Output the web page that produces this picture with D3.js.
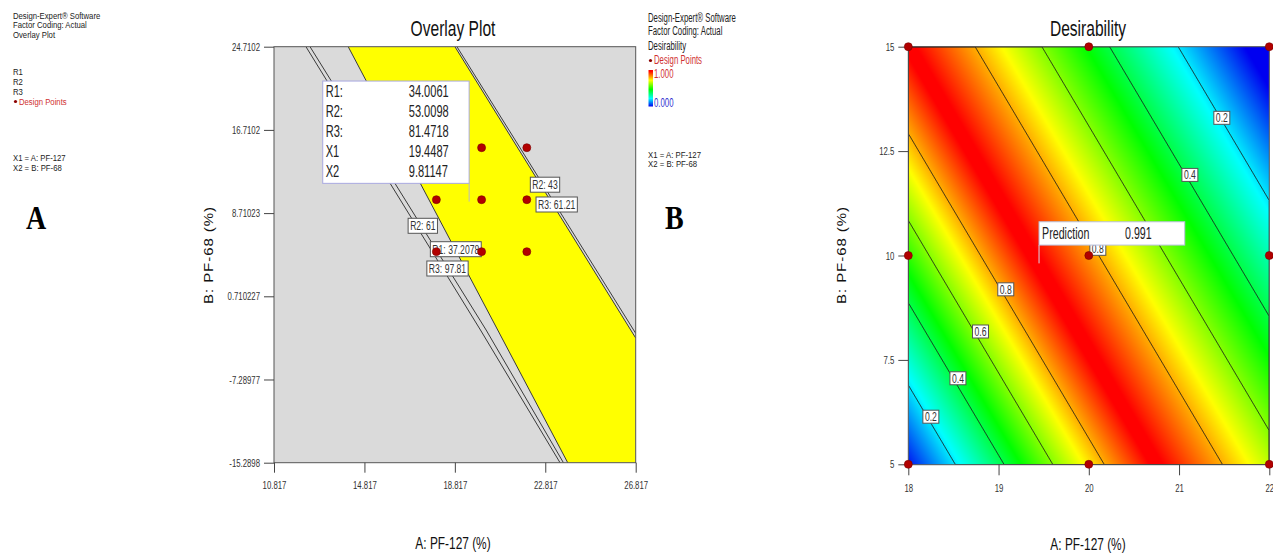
<!DOCTYPE html>
<html>
<head>
<meta charset="utf-8">
<script src="https://cdn.jsdelivr.net/npm/d3@7"></script>
<style>
  html, body { margin: 0; padding: 0; background: #ffffff; }
  svg { display: block; }
</style>
</head>
<body>
<svg id="fig" width="1273" height="557"></svg>
<script>
// ------------------------------------------------------------------
// Panel A: overlay plot of the three responses
// ------------------------------------------------------------------
const overlayXTicks = [10.817, 14.817, 18.817, 22.817, 26.817];
const overlayXTickLabels = ["10.817", "14.817", "18.817", "22.817", "26.817"];
const overlayYTicks = [24.7102, 16.7102, 8.71023, 0.710227, -7.28977, -15.2898];
const overlayYTickLabels = ["24.7102", "16.7102", "8.71023", "0.710227", "-7.28977", "-15.2898"];

// 3x3 factorial design (A: PF-127 %, B: PF-68 %)
const designA = [18, 20, 22, 18, 20, 22, 18, 20, 22];
const designB = [15, 15, 15, 10, 10, 10, 5, 5, 5];

// response contours that bound the feasible window, as [A, B] vertices
const contourR2_61 = [[12.23, 24.71], [19.95, -2.53], [23.47, -15.29]];
const contourR3_97 = [[12.41, 24.71], [20.20, -2.53], [23.62, -15.29]];
const contourR1_37 = [[14.10, 24.71], [23.81, -15.29]];
const contourR2_43 = [[18.82, 24.71], [26.817, -3.30]];
const contourR3_61 = [[18.91, 24.71], [26.817, -2.85]];
// feasible (yellow) window
const sweetSpot = [[14.10, 24.71], [18.82, 24.71], [26.817, -3.30], [26.817, -15.29], [23.81, -15.29]];

// flags placed on the contours
const flagText = ["R2: 43", "R3: 61.21", "R2: 61", "R1: 37.2078", "R3: 97.81"];
const flagA = [22.805, 23.322, 17.399, 18.859, 18.492];
const flagB = [11.441, 9.537, 7.489, 5.239, 3.383];

// optimum formulation
const optNames = ["R1:", "R2:", "R3:", "X1", "X2"];
const optValues = ["34.0061", "53.0098", "81.4718", "19.4487", "9.81147"];
const optA = 19.4487;
const optB = 9.81147;

// ------------------------------------------------------------------
// Panel B: desirability
// ------------------------------------------------------------------
const desXTicks = [18, 19, 20, 21, 22];
const desXTickLabels = ["18", "19", "20", "21", "22"];
const desYTicks = [5, 7.5, 10, 12.5, 15];
const desYTickLabels = ["5", "7.5", "10", "12.5", "15"];

// desirability along the bottom edge (B = 5): A position -> desirability
const fieldA5 = [17.95, 18.52, 19.06, 19.60, 20.17, 20.74, 21.48, 22.22, 22.97, 23.73, 24.47];
const fieldD  = [0.0,   0.2,   0.4,   0.6,   0.8,   0.991, 0.8,   0.6,   0.4,   0.2,   0.0];
// iso-desirability lines fall by this many B units per unit of A
const contourTilt = 3.65;
const contourLevels = [0.2, 0.4, 0.6, 0.8];

const desLabelText = ["0.2", "0.4", "0.8", "0.8", "0.6", "0.4", "0.2"];
const desLabelA = [21.474, 21.12, 20.10, 19.08, 18.80, 18.55, 18.25];
const desLabelB = [13.297, 11.93, 10.16, 9.19, 8.18, 7.06, 6.14];
const predictionValue = "0.991";

// ------------------------------------------------------------------
const svg = d3.select("#fig");
const FONT = "'Liberation Sans', Arial, sans-serif";
const NX = 0.82;  // horizontal squeeze giving a condensed face
const VS = 1.2;   // vertical text stretch

function put(g, x, y, str, o = {}) {
  const vs = o.vs || VS;
  const sx = o.sx || NX;
  return g.append("text")
    .attr("transform", `translate(${x},${y}) scale(${sx},${vs})${o.rotate ? " rotate(-90)" : ""}`)
    .attr("font-family", o.family || FONT)
    .attr("font-size", o.size || 10)
    .attr("font-weight", o.weight || null)
    .attr("letter-spacing", o.spacing || null)
    .attr("fill", o.fill || "#222")
    .attr("text-anchor", o.anchor || "start")
    .text(str);
}

function styleAxis(g) {
  g.selectAll("path.domain").remove();
  g.selectAll("line").attr("stroke", "#444").attr("stroke-width", 1);
  g.selectAll("text").attr("font-family", FONT).attr("font-size", 9.5).attr("fill", "#333")
    .each(function () {
      const t = d3.select(this);
      const x = +t.attr("x") || 0, y = +t.attr("y") || 0;
      t.attr("transform", `translate(${x},${y}) scale(${NX},${VS}) translate(${-x},${-y})`);
    });
}

// ---------------- legend A ----------------
const legA = svg.append("g");
[["Design-Expert® Software", 18.8], ["Factor Coding: Actual", 28.2], ["Overlay Plot", 37.6],
 ["R1", 74.7], ["R2", 84.7], ["R3", 94.7],
 ["X1 = A: PF-127", 161.3], ["X2 = B: PF-68", 171.3]].forEach(([s, y]) => put(legA, 13, y, s, { size: 9, sx: 0.86, vs: 1.0 }));
legA.append("circle").attr("cx", 15.5).attr("cy", 101.5).attr("r", 1.6).attr("fill", "#8b0000");
put(legA, 19, 104.7, "Design Points", { size: 9, sx: 0.86, vs: 1.0, fill: "#d03030" });
put(legA, 26, 229, "A", { family: "'Liberation Serif', 'Times New Roman', serif", size: 28, weight: "bold", fill: "#000", sx: 1 });

// ---------------- panel A ----------------
const xA = d3.scaleLinear().domain([10.817, 26.817]).range([274, 635.7]);
const yA = d3.scaleLinear().domain([-15.2898, 24.7102]).range([462.7, 46.7]);
const gA = svg.append("g");
const defs = svg.append("defs");
defs.append("clipPath").attr("id", "clipA").append("rect")
  .attr("x", xA.range()[0]).attr("y", yA.range()[1])
  .attr("width", xA.range()[1] - xA.range()[0]).attr("height", yA.range()[0] - yA.range()[1]);

gA.append("rect")
  .attr("x", xA.range()[0]).attr("y", yA.range()[1])
  .attr("width", xA.range()[1] - xA.range()[0]).attr("height", yA.range()[0] - yA.range()[1])
  .attr("fill", "#dadada");

const lineA = d3.line().x(d => xA(d[0])).y(d => yA(d[1]));
const plotA = gA.append("g").attr("clip-path", "url(#clipA)");
plotA.append("path").attr("d", lineA(sweetSpot) + "Z").attr("fill", "#ffff00");
[contourR2_61, contourR3_97, contourR1_37, contourR2_43, contourR3_61].forEach(c => {
  plotA.append("path").attr("d", lineA(c)).attr("fill", "none")
    .attr("stroke", "#3a3a3a").attr("stroke-width", 1);
});

gA.append("rect")
  .attr("x", xA.range()[0]).attr("y", yA.range()[1])
  .attr("width", xA.range()[1] - xA.range()[0]).attr("height", yA.range()[0] - yA.range()[1])
  .attr("fill", "none").attr("stroke", "#555").attr("stroke-width", 1);

const axAx = gA.append("g").attr("transform", `translate(0,${yA.range()[0]})`)
  .call(d3.axisBottom(xA).tickValues(overlayXTicks).tickFormat((d, i) => overlayXTickLabels[i])
    .tickSize(10).tickSizeOuter(0).tickPadding(8));
styleAxis(axAx);
const axAy = gA.append("g").attr("transform", `translate(${xA.range()[0]},0)`)
  .call(d3.axisLeft(yA).tickValues(overlayYTicks).tickFormat((d, i) => overlayYTickLabels[i])
    .tickSize(10).tickSizeOuter(0).tickPadding(4));
styleAxis(axAy);

put(gA, 453, 36, "Overlay Plot", { size: 19, anchor: "middle", fill: "#111" });
put(gA, 453, 549, "A: PF-127 (%)", { size: 14.5, anchor: "middle", fill: "#111" });
put(gA, 213, 255, "B: PF-68 (%)", { size: 12.5, anchor: "middle", fill: "#111", rotate: true, sx: 1, spacing: 0.8 });

// boxed labels
function flag(g, cx, cy, str, size, boxH) {
  const t = put(g, cx, cy + size * 0.36 * VS, str, { size: size, anchor: "middle", fill: "#333" });
  const w = t.node().getComputedTextLength() * NX;
  g.insert("rect", () => t.node())
    .attr("x", cx - w / 2 - 2).attr("y", cy - boxH / 2)
    .attr("width", w + 4).attr("height", boxH)
    .attr("fill", "#ffffff").attr("stroke", "#555").attr("stroke-width", 1);
}
const flagsA = gA.append("g");
flagText.forEach((s, i) => flag(flagsA, xA(flagA[i]), yA(flagB[i]), s, 10.5, 15));

// design points
gA.append("g").selectAll("circle").data(designA).join("circle")
  .attr("cx", d => xA(d)).attr("cy", (d, i) => yA(designB[i]))
  .attr("r", 4).attr("fill", "#b20000").attr("stroke", "#7a0000").attr("stroke-width", 0.6);

// optimum callout
{
  const px = xA(optA), py = yA(optB);
  const bw = 146.4, bh = 102.3, gap = 18.3;
  const bx = px - bw, by = py - gap - bh;
  gA.append("line").attr("x1", px).attr("x2", px).attr("y1", py - gap).attr("y2", py)
    .attr("stroke", "#b8b8c8").attr("stroke-width", 1);
  gA.append("rect").attr("x", bx).attr("y", by).attr("width", bw).attr("height", bh)
    .attr("fill", "#ffffff").attr("stroke", "#a8a8e0").attr("stroke-width", 1);
  optNames.forEach((n, i) => {
    const cy = by + 10.7 + i * 20;
    put(gA, bx + 3, cy + 5.5, n, { size: 13.5, fill: "#222" });
    put(gA, bx + 86, cy + 5.5, optValues[i], { size: 13.5, fill: "#222" });
  });
}

// ---------------- legend B ----------------
const legB = svg.append("g");
const VSB = 1.25;
[["Design-Expert® Software", 21.5], ["Factor Coding: Actual", 35], ["Desirability", 50]]
  .forEach(([s, y]) => put(legB, 648, y, s, { size: 9.5, vs: VSB }));
legB.append("circle").attr("cx", 650.5).attr("cy", 60.5).attr("r", 1.6).attr("fill", "#8b0000");
put(legB, 654, 64, "Design Points", { size: 9.5, vs: VSB, fill: "#d03030" });
put(legB, 654, 77.5, "1.000", { size: 9.5, vs: VSB, fill: "#d03030" });
put(legB, 654, 106.5, "0.000", { size: 9.5, vs: VSB, fill: "#3030d0" });
put(legB, 648, 157.5, "X1 = A: PF-127", { size: 9.5, vs: 1.05 });
put(legB, 648, 167, "X2 = B: PF-68", { size: 9.5, vs: 1.05 });
put(legB, 665, 229, "B", { family: "'Liberation Serif', 'Times New Roman', serif", size: 28, weight: "bold", fill: "#000", sx: 1 });

// ---------------- panel B ----------------
const xB = d3.scaleLinear().domain([18, 22]).range([908.3, 1269.3]);
const yB = d3.scaleLinear().domain([5, 15]).range([464.3, 46.7]);
const desirability = d3.scaleLinear().domain(fieldA5).range(fieldD).clamp(true);
const colour = d3.scaleLinear()
  .domain([0, 0.22, 0.47, 0.72, 0.97])
  .range(["#0000f0", "#00ffff", "#00ff00", "#ffff00", "#ff0000"])
  .clamp(true);

// colour bar in legend B
const grad = defs.append("linearGradient").attr("id", "desBar")
  .attr("x1", 0).attr("x2", 0).attr("y1", 1).attr("y2", 0);
colour.domain().concat([1]).forEach(v => {
  grad.append("stop").attr("offset", v).attr("stop-color", colour(v));
});
legB.append("rect").attr("x", 648.5).attr("y", 70).attr("width", 4.5).attr("height", 36.5)
  .attr("fill", "url(#desBar)");

const gB = svg.append("g");
const bx0 = xB.range()[0], by0 = yB.range()[1];
const bw = Math.round(xB.range()[1] - bx0), bh = Math.round(yB.range()[0] - by0);

// sample the desirability surface on the pixel grid
const values = new Float64Array(bw * bh);
for (let j = 0; j < bh; j++) {
  const b = yB.invert(by0 + j + 0.5);
  for (let i = 0; i < bw; i++) {
    const a = xB.invert(bx0 + i + 0.5);
    values[j * bw + i] = desirability(a + (b - 5) / contourTilt);
  }
}
const canvas = document.createElement("canvas");
canvas.width = bw; canvas.height = bh;
const ctx = canvas.getContext("2d");
const img = ctx.createImageData(bw, bh);
for (let k = 0; k < values.length; k++) {
  const c = d3.rgb(colour(values[k]));
  img.data[4 * k] = c.r; img.data[4 * k + 1] = c.g; img.data[4 * k + 2] = c.b; img.data[4 * k + 3] = 255;
}
ctx.putImageData(img, 0, 0);
gB.append("image").attr("x", bx0).attr("y", by0).attr("width", bw).attr("height", bh)
  .attr("preserveAspectRatio", "none").attr("href", canvas.toDataURL());

defs.append("clipPath").attr("id", "clipB").append("rect")
  .attr("x", bx0).attr("y", by0).attr("width", bw).attr("height", bh);
const iso = d3.contours().size([bw, bh]).thresholds(contourLevels)(values);
gB.append("g").attr("clip-path", "url(#clipB)")
  .append("g").attr("transform", `translate(${bx0},${by0})`)
  .selectAll("path").data(iso).join("path")
  .attr("d", d3.geoPath()).attr("fill", "none")
  .attr("stroke", "#1a1a1a").attr("stroke-width", 0.9);

gB.append("rect").attr("x", bx0).attr("y", by0).attr("width", bw).attr("height", bh)
  .attr("fill", "none").attr("stroke", "#555").attr("stroke-width", 1);

const axBx = gB.append("g").attr("transform", `translate(0,${yB.range()[0]})`)
  .call(d3.axisBottom(xB).tickValues(desXTicks).tickFormat((d, i) => desXTickLabels[i])
    .tickSize(11).tickSizeOuter(0).tickPadding(9));
styleAxis(axBx);
const axBy = gB.append("g").attr("transform", `translate(${bx0},0)`)
  .call(d3.axisLeft(yB).tickValues(desYTicks).tickFormat((d, i) => desYTickLabels[i])
    .tickSize(10).tickSizeOuter(0).tickPadding(4));
styleAxis(axBy);

put(gB, 1088, 36, "Desirability", { size: 19, anchor: "middle", fill: "#111" });
put(gB, 1088, 550, "A: PF-127 (%)", { size: 14.5, anchor: "middle", fill: "#111" });
put(gB, 846, 255, "B: PF-68 (%)", { size: 12.5, anchor: "middle", fill: "#111", rotate: true, sx: 1, spacing: 0.8 });

const labB = gB.append("g");
desLabelText.forEach((s, i) => flag(labB, xB(desLabelA[i]), yB(desLabelB[i]), s, 10.5, 13));

gB.append("g").selectAll("circle").data(designA).join("circle")
  .attr("cx", d => xB(d)).attr("cy", (d, i) => yB(designB[i]))
  .attr("r", 4).attr("fill", "#b20000").attr("stroke", "#7a0000").attr("stroke-width", 0.6);

// prediction callout at the optimum
{
  const px = xB(optA), py = yB(optB);
  const w = 145.7, h = 23.3, gap = 18.3;
  const x0 = px, y0 = py - gap - h;
  gB.append("line").attr("x1", px).attr("x2", px).attr("y1", py - gap).attr("y2", py)
    .attr("stroke", "#d8d8e8").attr("stroke-width", 1);
  gB.append("rect").attr("x", x0).attr("y", y0).attr("width", w).attr("height", h)
    .attr("fill", "#ffffff").attr("stroke", "#b8c0dc").attr("stroke-width", 1);
  put(gB, x0 + 3, y0 + h / 2 + 5.5, "Prediction", { size: 13, fill: "#222" });
  put(gB, x0 + 86, y0 + h / 2 + 5.5, predictionValue, { size: 13, fill: "#222" });
}
</script>
</body>
</html>
